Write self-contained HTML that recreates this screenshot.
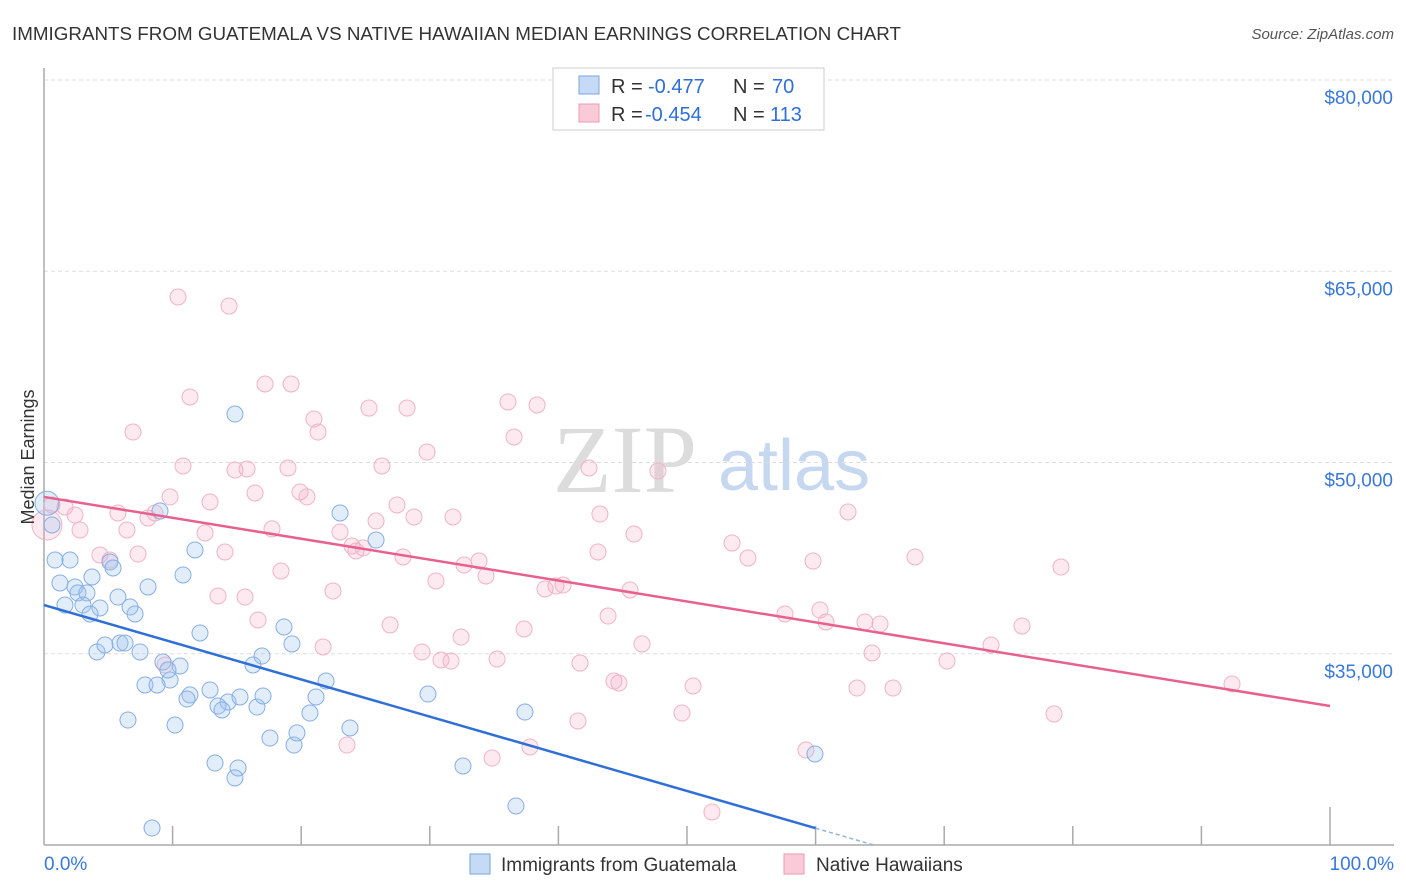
<!DOCTYPE html>
<html><head><meta charset="utf-8">
<style>
body{margin:0;background:#fff;font-family:"Liberation Sans",sans-serif}
#wrap{position:relative;width:1406px;height:892px;overflow:hidden}
</style></head><body>
<div id="wrap">
<svg id="chart" width="1406" height="892" xmlns="http://www.w3.org/2000/svg">
<text x="12" y="40" font-size="18" fill="#333" textLength="889" lengthAdjust="spacingAndGlyphs">IMMIGRANTS FROM GUATEMALA VS NATIVE HAWAIIAN MEDIAN EARNINGS CORRELATION CHART</text>
<text x="1394" y="39" font-size="15" fill="#555" text-anchor="end" font-style="italic">Source: ZipAtlas.com</text>
<text x="553" y="492" font-size="96" fill="#dcdcdc" font-family="Liberation Serif,serif">ZIP</text>
<text x="718" y="490" font-size="72" fill="#c5d8f0">atlas</text>
<g id="grid"></g>
<g id="axes"></g>
<g id="marks"></g>
<text transform="translate(34,457) rotate(-90)" font-size="18" fill="#333" text-anchor="middle">Median Earnings</text>
<g>
<rect x="553" y="68" width="271" height="62" fill="#fff" stroke="#ccc"/>
<rect x="579" y="76" width="20" height="18" fill="#c5daf5" stroke="#7aa6e0"/>
<rect x="579" y="104" width="20" height="18" fill="#f9cbd8" stroke="#ee9ab4"/>
<text x="611" y="93" font-size="20" fill="#333">R =</text>
<text x="648" y="93" font-size="20" fill="#2f6fd6">-0.477</text>
<text x="733" y="93" font-size="20" fill="#333">N =</text>
<text x="772" y="93" font-size="20" fill="#2f6fd6">70</text>
<text x="611" y="121" font-size="20" fill="#333">R =</text>
<text x="645" y="121" font-size="20" fill="#2f6fd6">-0.454</text>
<text x="733" y="121" font-size="20" fill="#333">N =</text>
<text x="770" y="121" font-size="20" fill="#2f6fd6">113</text>
</g>
<g>
<rect x="470" y="854" width="20" height="20" fill="#c5daf5" stroke="#7aa6e0"/>
<text x="501" y="871" font-size="19" fill="#333">Immigrants from Guatemala</text>
<rect x="784" y="854" width="20" height="20" fill="#f9cbd8" stroke="#ee9ab4"/>
<text x="816" y="871" font-size="19" fill="#333">Native Hawaiians</text>
</g>
</svg>
</div>
<script>
const yTicks=[35000,50000,65000,80000];
const yTickLabels=["$35,000","$50,000","$65,000","$80,000"];
const xTickLabels=["0.0%","100.0%"];
const blueX=[.23,.62,.86,2.02,1.24,2.41,1.63,2.64,3.34,3.03,3.73,4.35,3.58,5.13,5.37,5.75,6.69,7.08,8.09,9.02,11.74,10.81,4.12,4.74,5.91,6.3,7.47,9.25,10.58,9.8,7.85,8.79,12.91,11.35,11.12,14.31,13.53,13.84,15.24,16.56,17.03,12.13,14.85,6.53,10.19,13.3,15.09,14.85,16.25,16.95,18.66,19.28,17.57,19.44,19.67,20.68,21.15,21.93,23.02,25.82,23.79,29.86,32.58,37.4,36.7,59.95,8.4,9.64];
const blueY=[46.8,45.1,42.35,42.35,40.55,40.24,38.82,39.77,39.77,38.82,41.02,38.59,38.12,42.2,41.73,39.45,38.67,38.12,40.24,46.2,43.14,41.18,35.14,35.69,35.84,35.84,35.14,34.35,34.04,32.94,32.55,32.55,32.16,31.77,31.45,31.22,30.9,30.59,31.61,30.82,31.69,36.63,53.8,29.8,29.41,26.43,26.04,25.26,34.12,34.82,37.1,35.77,28.39,27.84,28.79,30.35,31.61,32.86,46.04,43.92,29.18,31.84,26.2,30.43,23.06,27.14,21.33,33.73];
const pinkX=[.23,.62,1.63,2.41,2.8,4.35,5.13,5.75,6.45,7.31,8.09,8.63,9.41,9.8,10.42,10.81,11.35,6.92,12.52,12.91,13.53,14.07,14.39,14.85,15.63,15.79,16.41,16.64,17.19,17.73,18.43,18.97,19.21,19.91,20.45,20.99,21.31,21.7,22.47,23.02,23.56,23.95,24.26,24.81,25.27,25.82,26.91,26.28,27.45,27.92,28.23,28.77,29.39,29.78,30.48,30.87,31.65,31.8,32.43,32.66,33.83,34.37,35.23,34.84,37.33,36.08,36.55,37.79,38.34,38.96,39.81,40.36,41.52,41.68,42.38,43.08,43.23,43.86,44.32,44.71,45.57,46.5,45.88,47.74,49.61,50.47,51.94,53.5,54.74,57.62,59.25,59.8,60.34,60.81,62.52,63.22,63.84,64.39,65.01,66.02,67.73,70.22,73.64,76.05,78.54,79.08,92.38];
const pinkY=[45.1,46.67,46.51,45.88,44.71,42.75,42.35,46.04,44.71,42.82,45.65,46.04,34.12,47.3,62.98,49.73,55.14,52.39,44.47,46.9,39.53,42.98,62.27,49.41,39.45,49.49,47.61,37.65,56.16,44.79,41.49,49.57,56.16,47.69,47.3,53.41,52.39,35.53,39.92,44.55,27.84,43.45,43.06,43.3,54.27,45.41,37.26,49.73,46.67,42.59,54.27,45.73,35.14,50.82,40.71,34.51,34.43,45.73,36.31,41.96,42.27,41.1,34.59,26.82,36.94,54.75,52.0,27.69,54.51,40.08,40.31,40.39,29.73,34.27,49.57,42.98,45.96,37.96,32.86,32.71,40.0,35.77,44.39,49.33,30.35,32.47,22.59,43.69,42.51,38.12,27.45,42.27,38.43,37.49,46.12,32.31,37.49,35.06,37.33,32.31,42.59,34.43,35.69,37.18,30.28,41.8,32.63];
const blueTrend=[38.82,-0.2917];
const pinkTrend=[47.3,-0.164];
const X=p=>44+p*12.86;
const Y=k=>845-(k*1000-20000)*(765/60000);
const NS="http://www.w3.org/2000/svg";
function mk(tag,attrs,parent){const e=document.createElementNS(NS,tag);for(const k in attrs)e.setAttribute(k,attrs[k]);document.getElementById(parent).appendChild(e);return e;}
yTicks.forEach((v,i)=>{
  const y=Y(v/1000);
  const g=mk('line',{x1:44,x2:1394,y1:y,y2:y,stroke:'#ddd','stroke-dasharray':'4,3'},'grid');
  
  
  const t=mk('text',{x:1393,y:y+24,'font-size':19,fill:'#3a78d8','text-anchor':'end'},'axes');
  t.textContent=yTickLabels[i];
  
  
});
let a=mk('line',{x1:44,x2:44,y1:68,y2:845,stroke:'#aaa','stroke-width':1.5},'axes');


a=mk('line',{x1:44,x2:1394,y1:845,y2:845,stroke:'#aaa','stroke-width':1.5},'axes');


for(let i=1;i<=10;i++){
  const x=X(i*10);
  const t=mk('line',{x1:x,x2:x,y1:i==10?807:826,y2:845,stroke:'#aaa','stroke-width':1.5},'axes');
  
  
}
[[0,'start',44],[100,'end',1394]].forEach((d,i)=>{
  const t=mk('text',{x:d[2],y:870,'font-size':19,fill:'#3a78d8','text-anchor':d[1]},'axes');
  t.textContent=xTickLabels[i];
  
  
});
pinkX.forEach((x,i)=>{
  const c=mk('circle',{cx:X(x),cy:Y(pinkY[i]),r:i==0?15:8,fill:'rgba(244,170,195,0.25)',stroke:'#f0b3c6','stroke-width':1},'marks');
  
  
});
blueX.forEach((x,i)=>{
  const c=mk('circle',{cx:X(x),cy:Y(blueY[i]),r:i==0?12:8,fill:'rgba(160,195,240,0.3)',stroke:'#86aee6','stroke-width':1},'marks');
  
  
});
let l=mk('line',{x1:X(0),y1:Y(pinkTrend[0]),x2:X(100),y2:Y(pinkTrend[0]+pinkTrend[1]*100),stroke:'#e8608e','stroke-width':2.5},'marks');


const bEnd=60;
l=mk('line',{x1:X(0),y1:Y(blueTrend[0]),x2:X(bEnd),y2:Y(blueTrend[0]+blueTrend[1]*bEnd),stroke:'#2f6fd6','stroke-width':2.5},'marks');


const bDash=(20-blueTrend[0])/blueTrend[1];
l=mk('line',{x1:X(bEnd),y1:Y(blueTrend[0]+blueTrend[1]*bEnd),x2:X(bDash),y2:Y(20),stroke:'#8fb3e8','stroke-width':1.5,'stroke-dasharray':'4,3'},'marks');


</script>
</body></html>
